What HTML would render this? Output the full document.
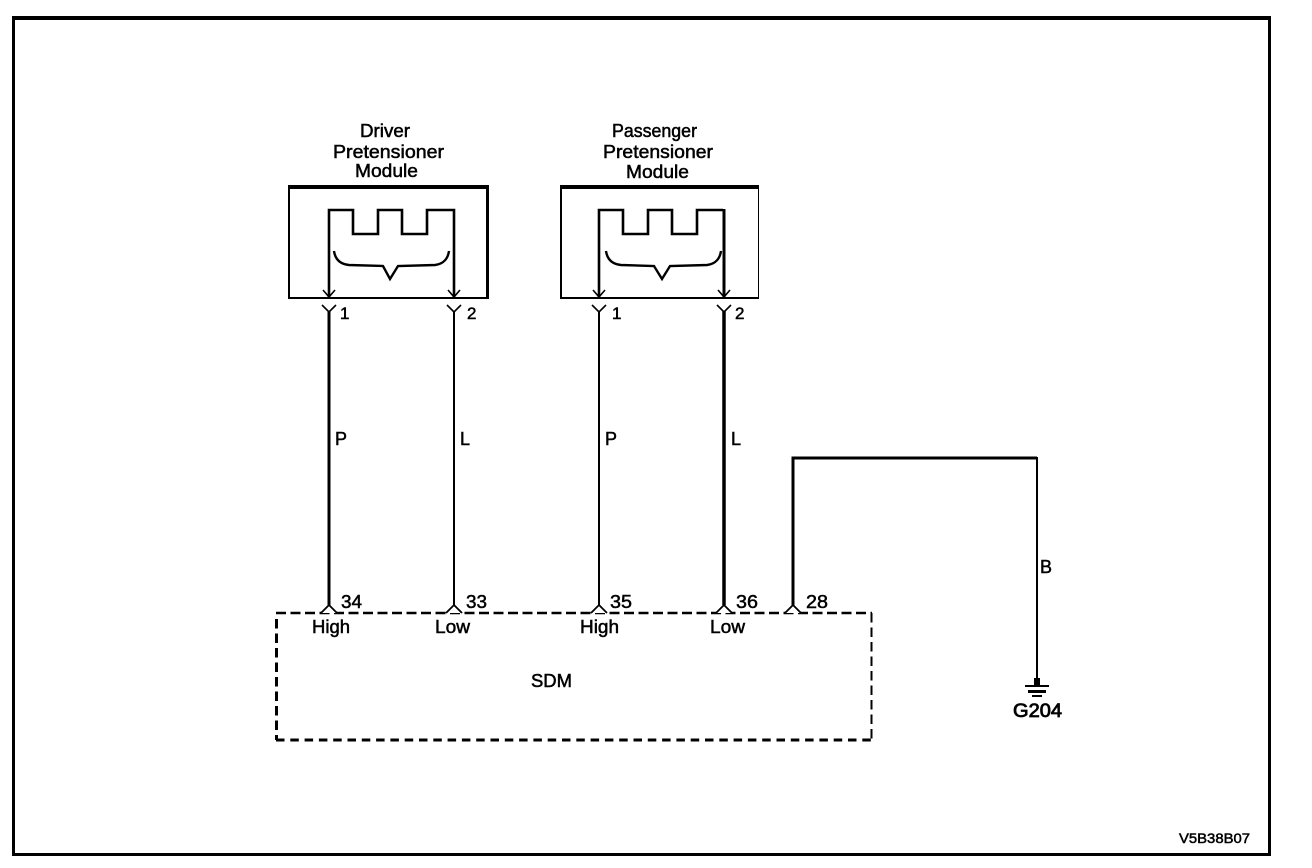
<!DOCTYPE html>
<html>
<head>
<meta charset="utf-8">
<style>
html,body{margin:0;padding:0;background:#fff;width:1312px;height:868px;overflow:hidden}
svg{display:block}
text{font-family:"Liberation Sans",sans-serif;fill:#000;stroke:#000;stroke-width:.5px}
</style>
</head>
<body>
<svg width="1312" height="868" viewBox="0 0 1312 868" xmlns="http://www.w3.org/2000/svg">
<rect width="1312" height="868" fill="#fff"/>
<g shape-rendering="crispEdges">
<!-- outer frame -->
<rect x="12" y="16" width="1259" height="4"/>
<rect x="12" y="16" width="3" height="840"/>
<rect x="12" y="853" width="1259" height="3"/>
<rect x="1268" y="16" width="3" height="840"/>
<!-- driver box -->
<rect x="288" y="185" width="201" height="4"/>
<rect x="288" y="185" width="2" height="114"/>
<rect x="486" y="185" width="3" height="114"/>
<rect x="288" y="297" width="201" height="2"/>
<!-- passenger box -->
<rect x="560" y="185" width="199" height="4"/>
<rect x="560" y="185" width="2" height="114"/>
<rect x="758" y="185" width="1" height="114"/>
<rect x="560" y="297" width="199" height="2"/>
</g>
<g fill="none" stroke="#000" stroke-linejoin="miter">
<!-- resistors -->
<path d="M329 297V210H353V234H378V210H402V234H427V210H454V297" stroke-width="2.600"/>
<path d="M599 297V210H623V234H648V210H672V234H697V210H723" stroke-width="2.600"/>
<path d="M724 209V297" stroke-width="3"/>
<!-- braces -->
<path d="M334 251C335 258 339 264 349 265L383 266L390 279L398 266L435 265C444 264 448 258 449 251" stroke-width="2.400"/>
<path d="M606 251C607 258 611 264 621 265L654 266L662 279L670 266L707 265C716 264 720 258 721 251" stroke-width="2.400"/>
<!-- wires -->
<path d="M329 311V605" stroke-width="3"/>
<path d="M454 311V605" stroke-width="2"/>
<path d="M599 311V605" stroke-width="2"/>
<path d="M724 311V605" stroke-width="3.500"/>
<path d="M793 605V458H1037" stroke-width="3"/>
<path d="M1037 457V680" stroke-width="2"/>
<!-- top chevrons -->
<g stroke-width="1.600">
<path d="M323 290L329 297L335 290"/>
<path d="M448 290L454 297L460 290"/>
<path d="M593 290L599 297L605 290"/>
<path d="M718 290L724 297L730 290"/>
<path d="M322 305L329 312L336 305"/>
<path d="M447 305L454 312L461 305"/>
<path d="M592 305L599 312L606 305"/>
<path d="M717 305L724 312L731 305"/>
</g>
<!-- SDM dashed -->
<path d="M276 613H872" stroke-width="2.500" stroke-dasharray="10 4.500"/>
<path d="M276 740H872" stroke-width="3" stroke-dasharray="8.500 5.800"/>
<path d="M276.500 619V740" stroke-width="3" stroke-dasharray="9.500 5"/>
<path d="M871.500 613V740" stroke-width="2" stroke-dasharray="9.500 5"/>
<!-- bottom carets -->
<g stroke-width="1.800">
<path d="M321 613L329 605L337 613" fill="#fff"/>
<path d="M446 613L454 605L462 613" fill="#fff"/>
<path d="M591 613L599 605L607 613" fill="#fff"/>
<path d="M716 613L724 605L732 613" fill="#fff"/>
<path d="M785 613L793 605L801 613" fill="#fff"/>
</g>
</g>
<!-- ground -->
<g shape-rendering="crispEdges">
<rect x="1034" y="678" width="6" height="7"/>
<rect x="1025" y="685" width="24" height="2"/>
<rect x="1028" y="690" width="18" height="3"/>
<rect x="1032" y="695" width="10" height="2"/>
</g>
<!-- labels -->
<g font-size="18">
<text x="360" y="137" textLength="50" lengthAdjust="spacingAndGlyphs">Driver</text>
<text x="333" y="158" textLength="111" lengthAdjust="spacingAndGlyphs">Pretensioner</text>
<text x="355" y="177" textLength="63" lengthAdjust="spacingAndGlyphs">Module</text>
<text x="612" y="137" textLength="85" lengthAdjust="spacingAndGlyphs">Passenger</text>
<text x="603" y="158" textLength="110" lengthAdjust="spacingAndGlyphs">Pretensioner</text>
<text x="626" y="178" textLength="63" lengthAdjust="spacingAndGlyphs">Module</text>
<text x="340" y="319" font-size="17">1</text>
<text x="467" y="319" font-size="17">2</text>
<text x="612" y="319" font-size="17">1</text>
<text x="735" y="319" font-size="17">2</text>
<text x="335" y="445">P</text>
<text x="460" y="445">L</text>
<text x="605" y="445">P</text>
<text x="731" y="445">L</text>
<text x="1040" y="573">B</text>
<text x="341" y="608" textLength="21" lengthAdjust="spacingAndGlyphs">34</text>
<text x="466" y="608" textLength="21" lengthAdjust="spacingAndGlyphs">33</text>
<text x="610" y="608" textLength="22" lengthAdjust="spacingAndGlyphs">35</text>
<text x="736" y="608" textLength="22" lengthAdjust="spacingAndGlyphs">36</text>
<text x="806" y="608" textLength="22" lengthAdjust="spacingAndGlyphs">28</text>
<text x="312" y="633" textLength="38" lengthAdjust="spacingAndGlyphs">High</text>
<text x="435" y="633" textLength="35" lengthAdjust="spacingAndGlyphs">Low</text>
<text x="580" y="633" textLength="39" lengthAdjust="spacingAndGlyphs">High</text>
<text x="710" y="633" textLength="35" lengthAdjust="spacingAndGlyphs">Low</text>
<text x="531" y="687" textLength="41" lengthAdjust="spacingAndGlyphs">SDM</text>
<text x="1013" y="717" font-size="19" textLength="49" lengthAdjust="spacingAndGlyphs" style="stroke-width:.8px">G204</text>
</g>
<text x="1179" y="843" font-size="14" textLength="71" lengthAdjust="spacingAndGlyphs">V5B38B07</text>
</svg>
</body>
</html>
